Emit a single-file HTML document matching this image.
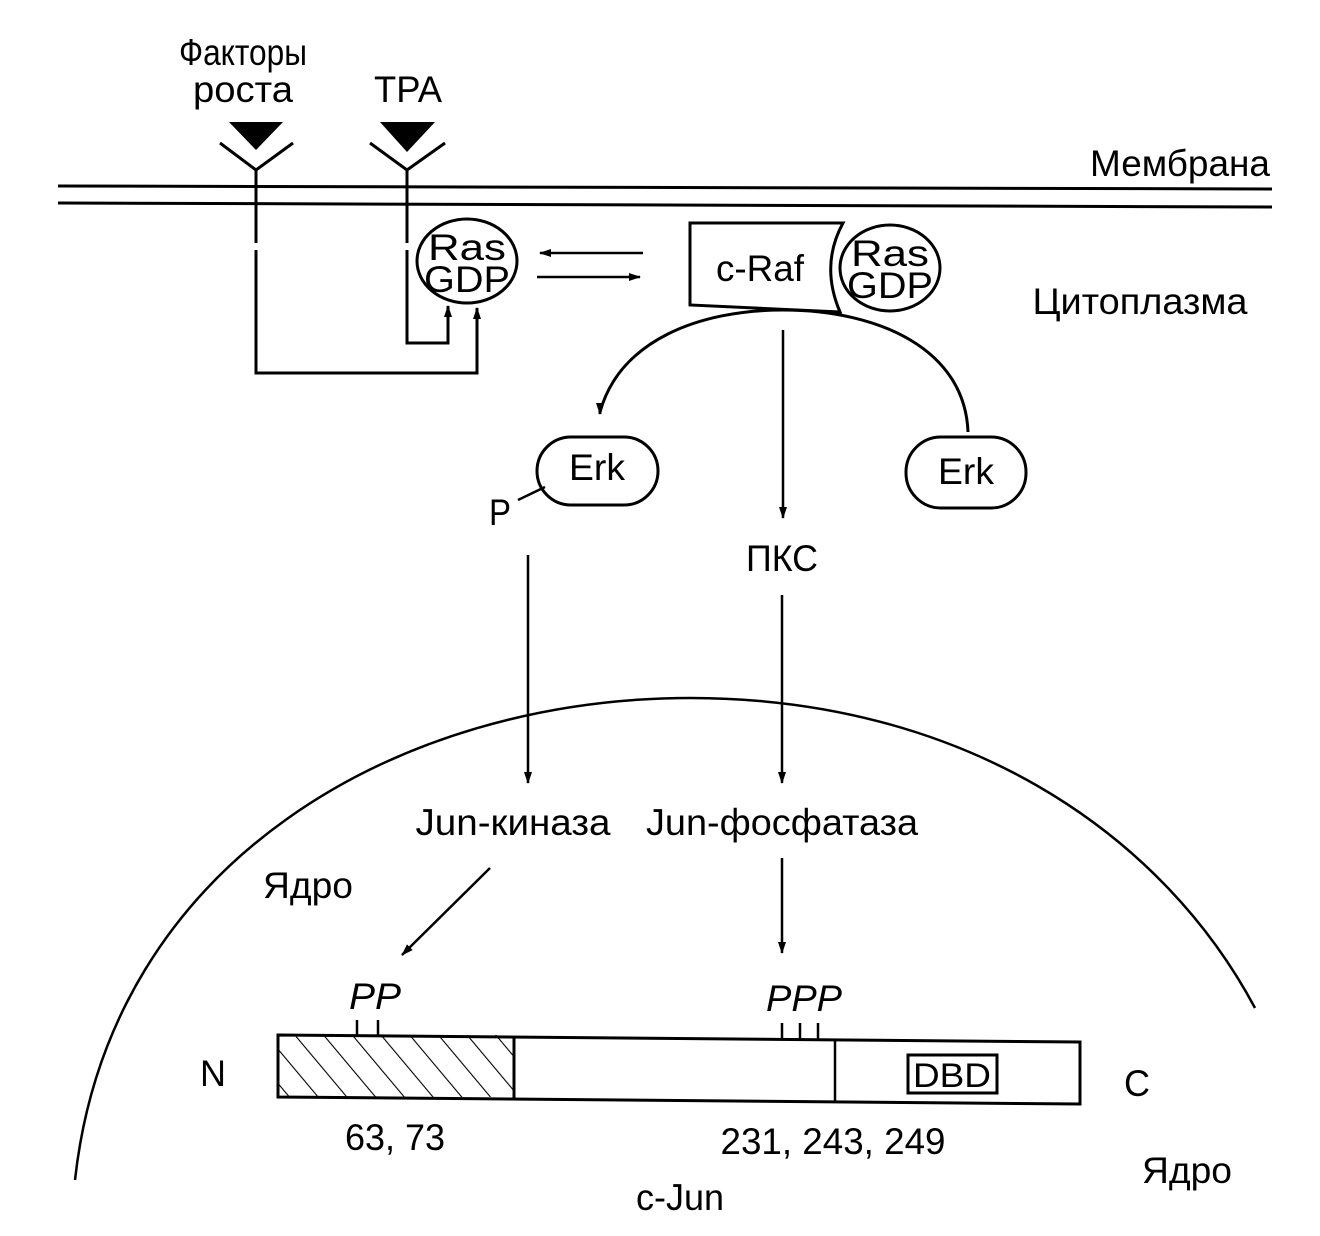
<!DOCTYPE html>
<html><head><meta charset="utf-8"><style>
html,body{margin:0;padding:0;background:#fff;}
svg{display:block;}
text{font-family:"Liberation Sans",sans-serif;fill:#000;}
</style></head><body>
<svg width="1320" height="1236" viewBox="0 0 1320 1236" xmlns="http://www.w3.org/2000/svg">
<defs>
<marker id="a" markerWidth="12" markerHeight="10" refX="11" refY="5" orient="auto" markerUnits="userSpaceOnUse">
<path d="M0,1 L12,5 L0,9 Z" fill="#000"/></marker>
<pattern id="h" patternUnits="userSpaceOnUse" width="22" height="22" patternTransform="rotate(-40)">
<line x1="0" y1="0" x2="0" y2="22" stroke="#000" stroke-width="2.2"/></pattern>
</defs>
<g stroke="#000" stroke-width="3" fill="none">
<line x1="58" y1="186" x2="1272" y2="189"/>
<line x1="58" y1="203" x2="1272" y2="207"/>
<polyline points="220,143 256,170 293,143"/>
<polyline points="370,143 407,170 445,143"/>
<line x1="256" y1="170" x2="256" y2="243"/>
<polyline points="256,250 256,373 477,373 477,308" marker-end="url(#a)"/>
<line x1="407" y1="170" x2="407" y2="243"/>
<polyline points="407,250 407,343 448,343 448,306" marker-end="url(#a)"/>
<ellipse cx="467" cy="261" rx="50" ry="42"/>
<line x1="643" y1="253" x2="540" y2="253" marker-end="url(#a)" stroke-width="2.5"/>
<line x1="537" y1="277" x2="640" y2="277" marker-end="url(#a)" stroke-width="2.5"/>
<path d="M690,223 L843,223 Q820,265 840,312 L690,305 Z"/>
<ellipse cx="890" cy="268" rx="50" ry="43"/>
<path d="M600,412 C620,340 700,310 783,310 C880,310 965,350 968,432"/>
<line x1="600" y1="405" x2="600" y2="414" marker-end="url(#a)"/>
<line x1="783" y1="330" x2="783" y2="518" stroke-width="2.5" marker-end="url(#a)"/>
<rect x="537" y="437" width="121" height="68" rx="34"/>
<rect x="906" y="437" width="120" height="71" rx="35"/>
<line x1="518" y1="500" x2="545" y2="487" stroke-width="2.5"/>
<line x1="528" y1="555" x2="528" y2="783" stroke-width="2.5" marker-end="url(#a)"/>
<line x1="782" y1="595" x2="782" y2="783" stroke-width="2.5" marker-end="url(#a)"/>
<path d="M75,1180 C110,860 400,698 690,698 C960,698 1160,830 1255,1008" stroke-width="2.5"/>
<line x1="490" y1="868" x2="402" y2="955" stroke-width="2.5" marker-end="url(#a)"/>
<line x1="782" y1="858" x2="782" y2="953" stroke-width="2.5" marker-end="url(#a)"/>
<rect x="278" y="1035" width="236" height="62" fill="url(#h)" stroke="none"/>
<path d="M278,1035 L1080,1042 L1080,1104 L278,1097 Z"/>
<line x1="514" y1="1037" x2="514" y2="1099"/>
<line x1="835" y1="1040" x2="835" y2="1102" stroke-width="2.5"/>
<rect x="908" y="1055" width="89" height="38"/>
<line x1="357" y1="1020" x2="357" y2="1036" stroke-width="2.5"/>
<line x1="378" y1="1020" x2="378" y2="1036" stroke-width="2.5"/>
<line x1="782" y1="1023" x2="782" y2="1040" stroke-width="2.5"/>
<line x1="800" y1="1023" x2="800" y2="1040" stroke-width="2.5"/>
<line x1="818" y1="1023" x2="818" y2="1040" stroke-width="2.5"/>
</g>
<polygon points="229,122 283,122 256,150" fill="#000"/>
<polygon points="380,122 435,122 407,152" fill="#000"/>
<g font-size="37" text-anchor="middle">
<text x="243" y="65" textLength="128" lengthAdjust="spacingAndGlyphs">Факторы</text>
<text x="243" y="102" textLength="100" lengthAdjust="spacingAndGlyphs">роста</text>
<text x="408" y="102" textLength="68" lengthAdjust="spacingAndGlyphs">TPA</text>
<text x="1180" y="176" textLength="180" lengthAdjust="spacingAndGlyphs">Мембрана</text>
<text x="1140" y="314" textLength="215" lengthAdjust="spacingAndGlyphs">Цитоплазма</text>
<text x="467" y="260" font-size="37" textLength="78" lengthAdjust="spacingAndGlyphs">Ras</text>
<text x="467" y="292" font-size="37" textLength="86" lengthAdjust="spacingAndGlyphs">GDP</text>
<text x="760" y="281" textLength="88" lengthAdjust="spacingAndGlyphs">c-Raf</text>
<text x="890" y="266" font-size="37" textLength="78" lengthAdjust="spacingAndGlyphs">Ras</text>
<text x="890" y="298" font-size="37" textLength="86" lengthAdjust="spacingAndGlyphs">GDP</text>
<text x="597" y="480" textLength="56" lengthAdjust="spacingAndGlyphs">Erk</text>
<text x="966" y="484" textLength="56" lengthAdjust="spacingAndGlyphs">Erk</text>
<text x="500" y="525" textLength="22" lengthAdjust="spacingAndGlyphs">P</text>
<text x="782" y="571" textLength="72" lengthAdjust="spacingAndGlyphs">ПКС</text>
<text x="513" y="835" textLength="195" lengthAdjust="spacingAndGlyphs">Jun-киназа</text>
<text x="782" y="835" textLength="272" lengthAdjust="spacingAndGlyphs">Jun-фосфатаза</text>
<text x="308" y="898" textLength="90" lengthAdjust="spacingAndGlyphs">Ядро</text>
<text x="1187" y="1183" textLength="90" lengthAdjust="spacingAndGlyphs">Ядро</text>
<text x="375" y="1009" font-style="italic" textLength="52" lengthAdjust="spacingAndGlyphs">PP</text>
<text x="804" y="1011" font-style="italic" textLength="76" lengthAdjust="spacingAndGlyphs">PPP</text>
<text x="952" y="1087" font-size="34" textLength="78" lengthAdjust="spacingAndGlyphs">DBD</text>
<text x="213" y="1086" textLength="26" lengthAdjust="spacingAndGlyphs">N</text>
<text x="1137" y="1096" textLength="26" lengthAdjust="spacingAndGlyphs">C</text>
<text x="395" y="1150" textLength="100" lengthAdjust="spacingAndGlyphs">63, 73</text>
<text x="833" y="1154" textLength="225" lengthAdjust="spacingAndGlyphs">231, 243, 249</text>
<text x="680" y="1210" textLength="88" lengthAdjust="spacingAndGlyphs">c-Jun</text>
</g>
</svg>
</body></html>
